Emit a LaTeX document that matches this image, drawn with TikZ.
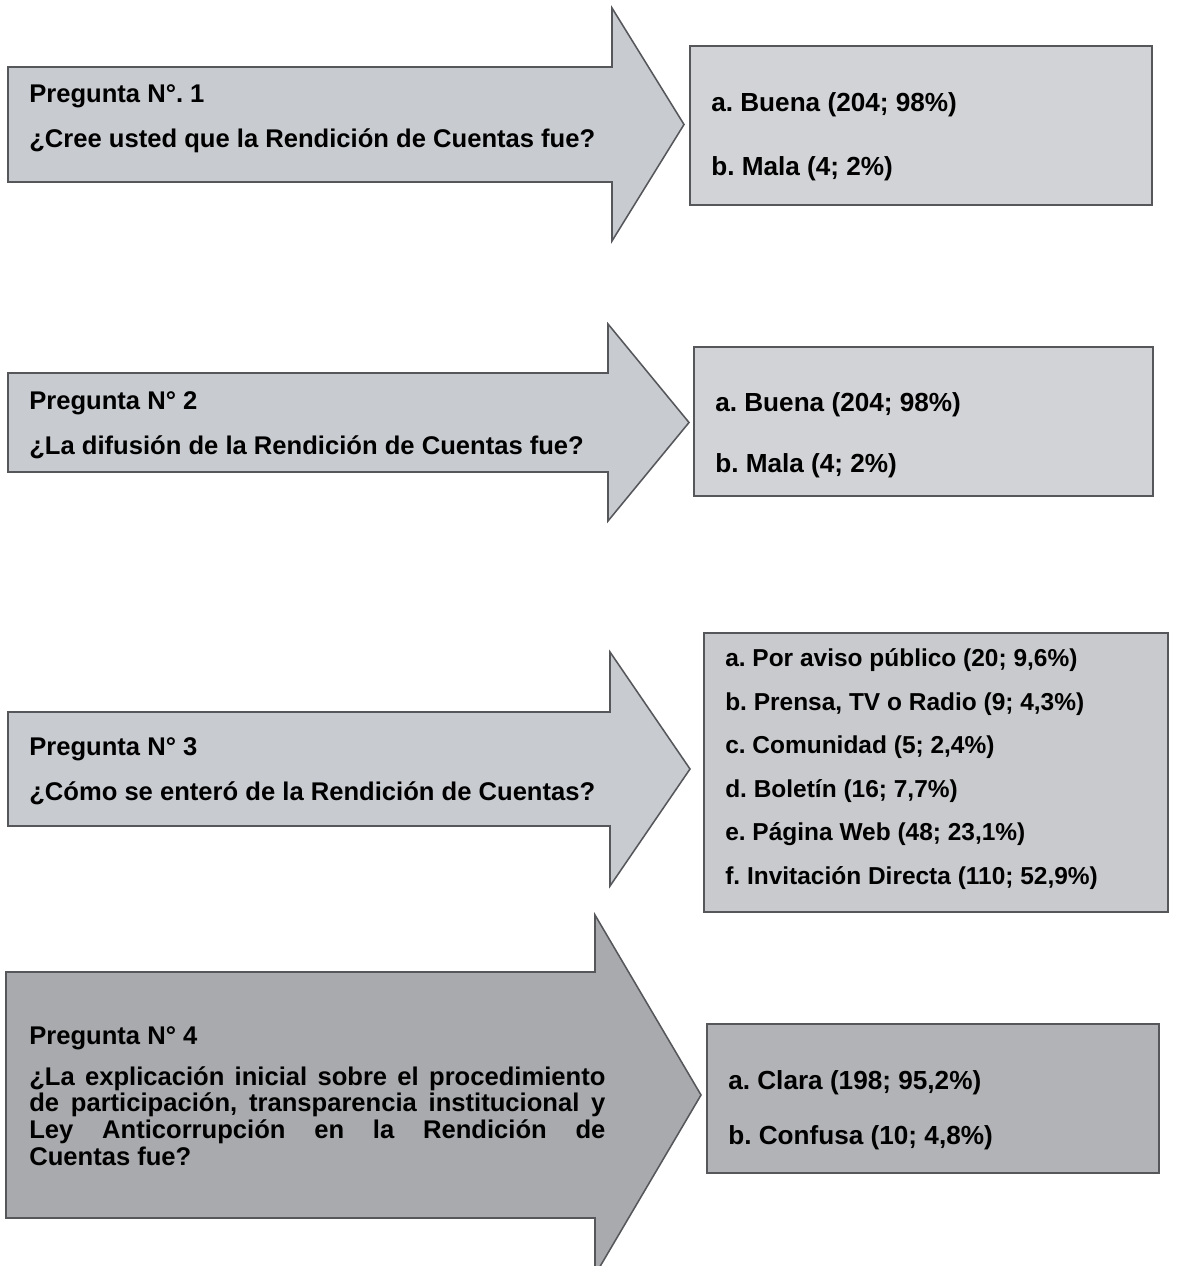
\documentclass[tikz,border=0pt]{standalone}
\usepackage{fontspec}
\setmainfont{Liberation Sans}
\usetikzlibrary{positioning}
\frenchspacing
\definecolor{edgegray}{HTML}{55575B}
\definecolor{qfill}{HTML}{C8CBD0}
\definecolor{qdark}{HTML}{A8AAAD}
\definecolor{afill}{HTML}{D1D3D6}
\definecolor{afillb}{HTML}{C8CACD}
\definecolor{adark}{HTML}{B1B3B6}
\tikzset{
  qarrow/.style={draw=edgegray,line width=1.1pt,fill=qfill,line join=miter},
  abox/.style={draw=edgegray,line width=1.1pt,fill=afill},
  qtext/.style={anchor=west,inner sep=0pt,text height=13.1pt,text depth=0pt,
                font=\fontsize{18.2}{20}\selectfont\bfseries},
  atext/.style={anchor=west,inner sep=0pt,text height=13.4pt,text depth=0pt,
                font=\fontsize{18.6}{20}\selectfont\bfseries},
  ltext/.style={atext,text height=12.5pt,font=\fontsize{17.4}{20}\selectfont\bfseries},
}

\begin{document}
\begin{tikzpicture}[x=0.025cm,y=-0.025cm]
  \useasboundingbox (0,0) rectangle (1179,1266);
  \clip (0,0) rectangle (1179,1266);

  %% Pregunta 1
  \draw[qarrow] (8,67) -- (612,67) -- (612,8) -- (684,124.5) -- (612,241)
    -- (612,182) -- (8,182) -- cycle;
  \draw[abox] (690,46) rectangle (1152,205);
  \node[qtext] (q1) at (29,93) {Pregunta N°. 1};
  \node[qtext,below=0.665cm of q1.south west,anchor=north west] (q1b)
    {¿Cree usted que la Rendición de Cuentas fue?};
  \node[atext] (r1a) at (711,102) {a. Buena (204; 98\%)};
  \node[atext] (r1b) at (711,166) {b. Mala (4; 2\%)};

  %% Pregunta 2
  \draw[qarrow] (8,373) -- (608,373) -- (608,324) -- (689,422.5) -- (608,521)
    -- (608,472) -- (8,472) -- cycle;
  \draw[abox] (694,347) rectangle (1153,496);
  \node[qtext] (q2) at (29,400) {Pregunta N° 2};
  \node[qtext,below=0.665cm of q2.south west,anchor=north west] (q2b)
    {¿La difusión de la Rendición de Cuentas fue?};
  \node[atext] (r2a) at (715,402) {a. Buena (204; 98\%)};
  \node[atext] (r2b) at (715,463) {b. Mala (4; 2\%)};

  %% Pregunta 3
  \draw[qarrow] (8,712) -- (610,712) -- (610,652) -- (690,769) -- (610,886)
    -- (610,826) -- (8,826) -- cycle;
  \draw[abox,fill=afillb] (704,633) rectangle (1168,912);
  \node[qtext] (q3) at (29,746) {Pregunta N° 3};
  \node[qtext,below=0.665cm of q3.south west,anchor=north west] (q3b)
    {¿Cómo se enteró de la Rendición de Cuentas?};
  \node[ltext] (r3a) at (725,658) {a. Por aviso público (20; 9,6\%)};
  \node[ltext,below=0.635cm of r3a.south west,anchor=north west] (r3b)
    {b. Prensa, TV o Radio (9; 4,3\%)};
  \node[ltext,below=0.635cm of r3b.south west,anchor=north west] (r3c)
    {c. Comunidad (5; 2,4\%)};
  \node[ltext,below=0.635cm of r3c.south west,anchor=north west] (r3d)
    {d. Boletín (16; 7,7\%)};
  \node[ltext,below=0.635cm of r3d.south west,anchor=north west] (r3e)
    {e. Página Web (48; 23,1\%)};
  \node[ltext,below=0.635cm of r3e.south west,anchor=north west] (r3f)
    {f. Invitación Directa (110; 52,9\%)};

  %% Pregunta 4
  \draw[qarrow,fill=qdark] (6,972) -- (595,972) -- (595,915) -- (701,1095)
    -- (595,1275) -- (595,1218) -- (6,1218) -- cycle;
  \draw[abox,fill=adark] (707,1024) rectangle (1159,1173);
  \node[qtext] (q4) at (29,1035) {Pregunta N° 4};
  \node[inner sep=0pt,text width=14.4cm,align=justify,
        font=\fontsize{18.2}{18.9}\selectfont\bfseries,
        below=0.545cm of q4.south west,anchor=north west] (q4b)
    {¿La explicación inicial sobre el procedimiento\linebreak
     de participación, transparencia institucional y\linebreak
     Ley Anticorrupción en la Rendición de\linebreak
     Cuentas fue?};
  \node[atext] (r4a) at (728,1080) {a. Clara (198; 95,2\%)};
  \node[atext] (r4b) at (728,1135) {b. Confusa (10; 4,8\%)};
\end{tikzpicture}
\end{document}
